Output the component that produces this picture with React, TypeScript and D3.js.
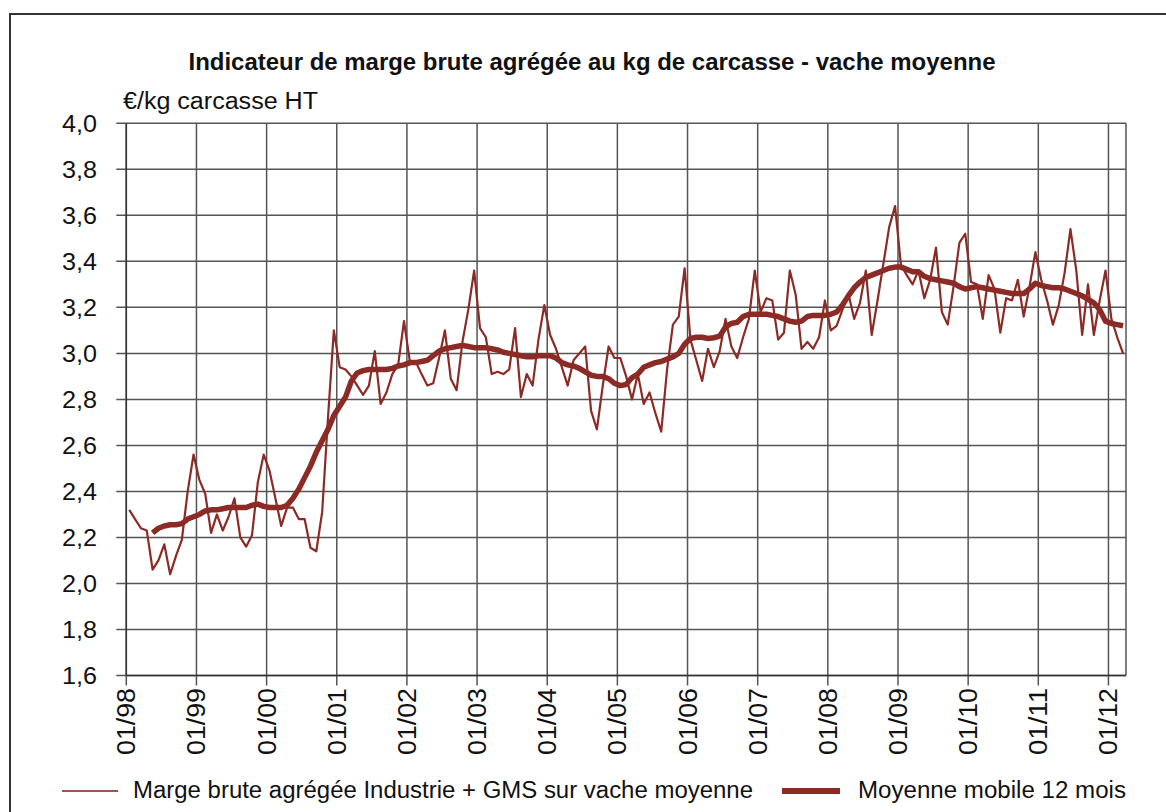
import React from 'react';
import * as d3 from 'd3';

// monthly values, 01/98 -> 03/12
const rawValues = [
  2.32, 2.28, 2.24, 2.23, 2.06, 2.1, 2.17, 2.04, 2.12, 2.19, 2.4, 2.56,
  2.45, 2.39, 2.22, 2.3, 2.23, 2.29, 2.37, 2.2, 2.16, 2.21, 2.44, 2.56,
  2.49, 2.37, 2.25, 2.33, 2.33, 2.28, 2.28, 2.155, 2.14, 2.31, 2.72, 3.1,
  2.94, 2.93, 2.9, 2.86, 2.82, 2.86, 3.01, 2.78, 2.83, 2.91, 2.95, 3.14,
  2.965, 2.965, 2.91, 2.86, 2.87, 2.98, 3.1, 2.89, 2.84, 3.05, 3.19, 3.36,
  3.11, 3.07, 2.91, 2.92, 2.91, 2.93, 3.11, 2.81, 2.91, 2.86, 3.06, 3.21,
  3.08, 3.02, 2.94, 2.86, 2.97, 3.0, 3.03, 2.75, 2.67, 2.86, 3.03, 2.98,
  2.98, 2.9, 2.8, 2.91, 2.78, 2.83, 2.74, 2.66, 2.93, 3.125, 3.16, 3.37,
  3.06, 2.97, 2.88, 3.02, 2.94, 3.01, 3.15, 3.03, 2.98, 3.07, 3.15, 3.36,
  3.18, 3.24, 3.23, 3.06, 3.09, 3.36, 3.255, 3.02, 3.05, 3.02, 3.07, 3.23,
  3.1, 3.12, 3.19, 3.26, 3.15, 3.22, 3.36, 3.08, 3.23, 3.39, 3.55, 3.64,
  3.385, 3.34, 3.3, 3.36, 3.24, 3.32, 3.46, 3.18, 3.125, 3.29, 3.48, 3.52,
  3.31, 3.3, 3.15, 3.34, 3.28, 3.09, 3.24, 3.23, 3.32, 3.16, 3.29, 3.44,
  3.32, 3.23, 3.125, 3.21, 3.35, 3.54, 3.36, 3.08, 3.3, 3.08, 3.23, 3.36,
  3.15, 3.07, 3.0,
];

// 12 month moving average, first value is month index 4
const maStart = 4;
const maValues = [
  2.22, 2.24, 2.25, 2.255, 2.255, 2.26, 2.28, 2.29,
  2.3, 2.315, 2.32, 2.32, 2.325, 2.33, 2.33, 2.33, 2.33, 2.34, 2.345, 2.335,
  2.33, 2.33, 2.33, 2.34, 2.37, 2.41, 2.46, 2.51, 2.57, 2.62, 2.67, 2.73,
  2.77, 2.81, 2.88, 2.915, 2.925, 2.93, 2.93, 2.93, 2.93, 2.935, 2.945, 2.95,
  2.96, 2.96, 2.965, 2.97, 2.99, 3.01, 3.02, 3.025, 3.03, 3.035, 3.03, 3.025,
  3.025, 3.025, 3.02, 3.015, 3.005, 3.0, 2.995, 2.99, 2.985, 2.985, 2.99, 2.99,
  2.99, 2.98, 2.96, 2.95, 2.945, 2.935, 2.92, 2.905, 2.9, 2.9, 2.89, 2.87,
  2.86, 2.865, 2.895, 2.91, 2.94, 2.95, 2.96, 2.965, 2.975, 2.985, 3.0, 3.04,
  3.065, 3.07, 3.07, 3.065, 3.068, 3.075, 3.115, 3.13, 3.135, 3.16, 3.17, 3.17,
  3.17, 3.17, 3.165, 3.16, 3.15, 3.14, 3.135, 3.14, 3.16, 3.165, 3.165, 3.165,
  3.17, 3.18, 3.21, 3.25, 3.285, 3.31, 3.33, 3.34, 3.35, 3.36, 3.37, 3.375,
  3.375, 3.365, 3.355, 3.355, 3.335, 3.325, 3.32, 3.315, 3.31, 3.305, 3.29, 3.28,
  3.285, 3.29, 3.285, 3.28, 3.275, 3.27, 3.265, 3.26, 3.26, 3.26, 3.28, 3.305,
  3.295, 3.29, 3.285, 3.285, 3.28, 3.27, 3.26, 3.25, 3.235, 3.22, 3.19, 3.14,
  3.13, 3.125, 3.12,
];

const yearLabels = ['01/98', '01/99', '01/00', '01/01', '01/02', '01/03', '01/04', '01/05',
  '01/06', '01/07', '01/08', '01/09', '01/10', '01/11', '01/12'];
const yTicks = [1.6, 1.8, 2.0, 2.2, 2.4, 2.6, 2.8, 3.0, 3.2, 3.4, 3.6, 3.8, 4.0];

const title = 'Indicateur de marge brute agrégée au kg de carcasse - vache moyenne';
const unitLabel = '€/kg carcasse HT';
const legendRaw = 'Marge brute agrégée Industrie + GMS sur vache moyenne';
const legendMa = 'Moyenne mobile 12 mois';

const W = 1166;
const H = 812;
const left = 126.3;
const right = 1126;
const top = 123.3;
const bottom = 675.5;
const color = '#8c2a25';
const grid = '#555';
const font = '"Liberation Sans", Arial, sans-serif';

export default function App() {
  const x = d3.scaleLinear().domain([0, rawValues.length]).range([left, right]);
  const y = d3.scaleLinear().domain([1.6, 4.0]).range([bottom, top]);

  const rawLine = d3.line<number>()
    .x((d, i) => x(i + 0.5))
    .y((d) => y(d));
  const maLine = d3.line<number>()
    .x((d, i) => x(i + maStart + 0.5))
    .y((d) => y(d));

  const fmt = (v: number) => v.toFixed(1).replace('.', ',');

  return (
    <svg width={W} height={H} style={{ position: 'absolute', left: 0, top: 0, background: '#fff' }}
      fontFamily={font}>
      <rect x={0} y={0} width={W} height={H} fill="#fff" />
      <rect x={10} y={14} width={W + 20} height={H + 20} fill="none" stroke="#333" strokeWidth={2} />

      <text x={592} y={70} textAnchor="middle" fontSize={23} fontWeight="bold" fill="#111"
        textLength={807} lengthAdjust="spacingAndGlyphs">{title}</text>
      <text x={123} y={109} fontSize={23} fill="#111" textLength={195}
        lengthAdjust="spacingAndGlyphs">{unitLabel}</text>

      {/* horizontal grid + y ticks */}
      {yTicks.map((t) => (
        <g key={t}>
          <line x1={left - 10} x2={right} y1={y(t)} y2={y(t)} stroke={grid} strokeWidth={1.5} />
          <text x={97} y={y(t)} dy="0.36em" textAnchor="end" fontSize={23} fill="#111"
            textLength={35} lengthAdjust="spacingAndGlyphs">{fmt(t)}</text>
        </g>
      ))}

      {/* vertical grid + x ticks */}
      {yearLabels.map((lab, k) => {
        const xp = x(k * 12);
        return (
          <g key={lab}>
            <line x1={xp} x2={xp} y1={top} y2={bottom + 10} stroke={grid} strokeWidth={1.5} />
            <text transform={`translate(${xp},${688}) rotate(-90)`} dy="0.36em" textAnchor="end"
              fontSize={25} fill="#111" textLength={67} lengthAdjust="spacingAndGlyphs">{lab}</text>
          </g>
        );
      })}
      <line x1={right} x2={right} y1={top} y2={bottom} stroke={grid} strokeWidth={1.5} />
      <line x1={left} x2={left} y1={top} y2={bottom} stroke="#333" strokeWidth={1.5} />
      <line x1={left} x2={right} y1={bottom} y2={bottom} stroke="#333" strokeWidth={1.5} />

      <path d={rawLine(rawValues) || ''} fill="none" stroke={color} strokeWidth={2.2}
        strokeLinejoin="round" />
      <path d={maLine(maValues) || ''} fill="none" stroke={color} strokeWidth={5.5}
        strokeLinejoin="round" />

      {/* legend */}
      <line x1={62} x2={118} y1={791} y2={791} stroke="#a8504a" strokeWidth={2} />
      <text x={133} y={798} fontSize={23} fill="#111" textLength={620}
        lengthAdjust="spacingAndGlyphs">{legendRaw}</text>
      <line x1={782} x2={840} y1={791} y2={791} stroke={color} strokeWidth={6} />
      <text x={858} y={798} fontSize={23} fill="#111" textLength={268}
        lengthAdjust="spacingAndGlyphs">{legendMa}</text>
    </svg>
  );
}
